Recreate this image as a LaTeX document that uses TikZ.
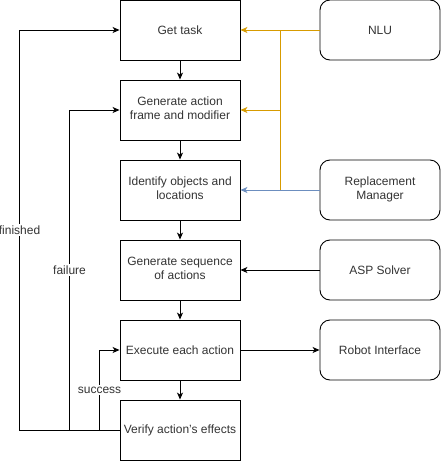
\documentclass[tikz,border=0pt]{standalone}
\usepackage{fontspec}
\setmainfont{Liberation Sans}
\usetikzlibrary{arrows.meta,positioning,calc}

\definecolor{nluorange}{HTML}{D79B00}
\definecolor{rmblue}{HTML}{6C8EBF}
\definecolor{textgray}{HTML}{333333}

\newcommand{\twolines}[2]{\begin{tabular}{@{}c@{}}#1\\#2\end{tabular}}

\tikzset{
	every step/.style={draw, line width=0.9pt, minimum width=120pt, minimum height=60pt,
		text=textgray, inner sep=1pt},
	every module/.style={every step/.try, rounded corners=10pt},
	loop label/.style={fill=white, text=textgray, inner sep=1.5pt},
}

\begin{document}
\begin{tikzpicture}[x=1pt, y=-1pt, line width=0.9pt, >={Stealth[length=7pt,width=6pt,inset=2pt]},
	font=\fontsize{12}{14}\selectfont]
	
	\useasboundingbox (0,0) rectangle (441,461);
	
	\node [every step/.try] (task) at (180,30) {Get task};
	\node [every step/.try] (frame) at (180,110) {\twolines{Generate action}{frame and modifier}};
	\node [every step/.try] (objects) at (180,190) {\twolines{Identify objects and}{\hspace*{0pt}\hfill locations\hfill\hspace*{0pt}}};
	\node [every step/.try] (sequence) at (180,270) {\twolines{Generate sequence}{of actions}};
	\node [every step/.try] (execute) at (180,350) {Execute each action};
	\node [every step/.try] (verify) at (180,430) {Verify action's effects};
	
	\node [every module/.try] (nlu) at (380,30) {NLU};
	\node [every module/.try] (manager) at (380,190) {\twolines{Replacement}{Manager}};
	\node [every module/.try] (asp) at (380,270) {ASP Solver};
	\node [every module/.try] (robot) at (380,350) {Robot Interface};
	
	\foreach \i/\j in {task/frame, frame/objects, objects/sequence, sequence/execute, execute/verify}
	\draw [->] (\i) -- (\j);
	
	\coordinate (split) at ($(task.east)!0.5!(nlu.west)$);
	\draw [->, nluorange] (nlu) -- (task);
	\draw [->, nluorange] (split |- frame) -- (frame);
	\draw [nluorange] (split) -- (split |- manager);
	\draw [->, rmblue] (manager) -- (objects);
	
	\draw [->] (asp) -- (sequence);
	\draw [->] (execute) -- (robot);
	
	\coordinate (finished) at ([xshift=-100pt]verify.west);
	\coordinate (failure) at ([xshift=-50pt]verify.west);
	\coordinate (success) at ([xshift=-20pt]verify.west);
	\draw [->] (verify.west) -- (finished) |- (task.west)
	node [loop label, pos=0.25] {finished};
	\draw [->] (failure) |- (frame.west)
	node [loop label, pos=0.25] {failure};
	\draw [->] (success) |- (execute.west)
	node [loop label, pos=0.25] {success};
	
\end{tikzpicture}
\end{document}
